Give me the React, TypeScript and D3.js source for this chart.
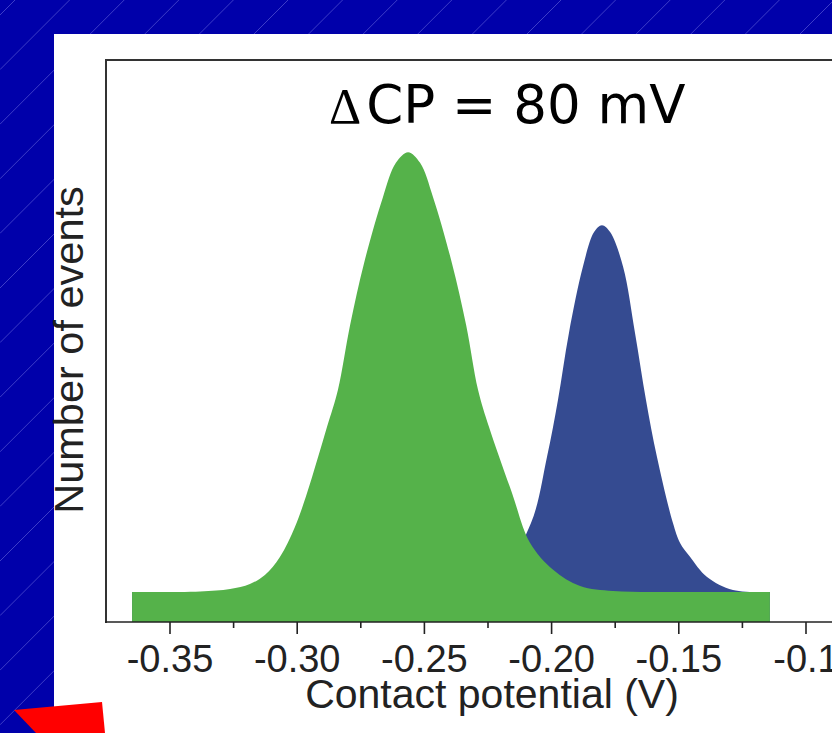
import React from "react";
import * as d3 from "d3";

// contact potential (V) / relative number of events
const greenV = [-0.3649, -0.3382, -0.3264, -0.3186, -0.3127, -0.3068, -0.3009, -0.2961, -0.2883, -0.284, -0.2792, -0.2737, -0.2663, -0.2612, -0.2564, -0.2517, -0.2466, -0.2392, -0.2336, -0.2289, -0.2246, -0.2156, -0.2085, -0.1994, -0.1888, -0.1759, -0.1613, -0.1495, -0.1142];
const greenN = [5.34, 5.43, 5.87, 6.76, 8.36, 11.57, 16.9, 23.0, 34.7, 41.3, 52.85, 63.9, 75.6, 81.7, 83.6, 81.7, 75.6, 63.9, 52.85, 41.3, 34.7, 23.0, 14.1, 9.3, 6.41, 5.52, 5.34, 5.34, 5.34];

const blueV = [-0.3649, -0.2321, -0.2203, -0.2081, -0.2018, -0.1975, -0.1932, -0.1877, -0.1833, -0.1802, -0.177, -0.1719, -0.1672, -0.1629, -0.1586, -0.1523, -0.1495, -0.1456, -0.1389, -0.1287, -0.1142];
const blueN = [5.34, 6.0, 8.4, 17.6, 29.4, 39.5, 51.4, 63.2, 69.4, 70.6, 69.4, 63.2, 51.4, 39.5, 29.4, 17.6, 14.06, 11.6, 8.0, 5.69, 5.34];

const majorTicks = [-0.35, -0.3, -0.25, -0.2, -0.15, -0.1];
const minorTicks = [-0.325, -0.275, -0.225, -0.175, -0.125];
const tickLabels = ["-0.35", "-0.30", "-0.25", "-0.20", "-0.15", "-0.1"];

const W = 832;
const H = 733;

export default function App() {
  const x = d3.scaleLinear().domain([-0.35, -0.1]).range([170, 806]);
  const y = d3.scaleLinear().domain([0, 100]).range([622, 60]);

  const area = d3
    .area<[number, number]>()
    .x((d) => x(d[0]))
    .y0(y(0))
    .y1((d) => y(d[1]))
    .curve(d3.curveCatmullRom.alpha(0.5));

  const green = greenV.map((v, i) => [v, greenN[i]] as [number, number]);
  const blue = blueV.map((v, i) => [v, blueN[i]] as [number, number]);

  // faint diagonal stripes of the slide background
  const stripes = d3.range(15, W + H, 54.6);

  return (
    <div>
      <style>{`body{margin:0}`}</style>
      <svg width={W} height={H} style={{ display: "block" }}>
        <rect x={0} y={0} width={W} height={H} fill="#0000aa" />
        {stripes.map((c, i) => (
          <line key={i} x1={0} y1={c} x2={c} y2={0} stroke="#6f6fe0" strokeWidth={0.8} opacity={0.7} />
        ))}
        <rect x={54} y={34} width={W - 54} height={H - 34} fill="#ffffff" />
        <polygon points="14,710 102,702 105,733 36,733" fill="#ff0000" />

        <path d={area(blue) || ""} fill="#354b91" />
        <path d={area(green) || ""} fill="#55b24a" />

        {/* frame */}
        <line x1={106} y1={60} x2={W + 5} y2={60} stroke="#333" strokeWidth={2} />
        <line x1={106} y1={59} x2={106} y2={623} stroke="#333" strokeWidth={2} />
        <line x1={105} y1={y(0)} x2={W + 5} y2={y(0)} stroke="#222" strokeWidth={1.6} />

        {majorTicks.map((t, i) => (
          <g key={t}>
            <line x1={x(t)} x2={x(t)} y1={622} y2={634} stroke="#222" strokeWidth={1.6} />
            <text
              x={x(t)}
              y={672}
              textAnchor="middle"
              fontFamily="'Liberation Sans', Arial, sans-serif"
              fontSize={38}
              fill="#222"
            >
              {tickLabels[i]}
            </text>
          </g>
        ))}
        {minorTicks.map((t) => (
          <line key={t} x1={x(t)} x2={x(t)} y1={622} y2={628} stroke="#222" strokeWidth={1.6} />
        ))}

        <text
          x={492}
          y={708}
          textAnchor="middle"
          fontFamily="'Liberation Sans', Arial, sans-serif"
          fontSize={41}
          fill="#222"
        >
          Contact potential (V)
        </text>
        <text
          transform="translate(83,350) rotate(-90)"
          textAnchor="middle"
          fontFamily="'Liberation Sans', Arial, sans-serif"
          fontSize={41.5}
          fill="#222"
        >
          Number of events
        </text>

        <text x={329} y={123} fontFamily="'DejaVu Sans', Verdana, sans-serif" fontSize={53} fill="#000">
          <tspan fontFamily="'Liberation Serif', serif" fontSize={50}>
            Δ
          </tspan>
          <tspan dx={5}>CP = 80 mV</tspan>
        </text>
      </svg>
    </div>
  );
}
